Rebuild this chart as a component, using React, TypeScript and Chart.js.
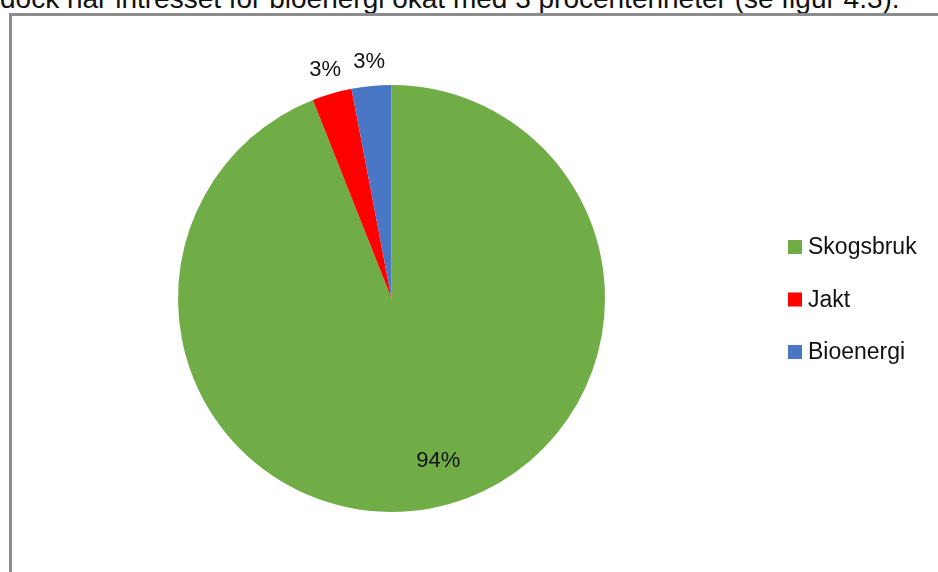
import React, { useEffect, useRef } from "react";
import { Chart, registerables } from "chart.js";

Chart.register(...registerables);

const categories = ["Skogsbruk", "Jakt", "Bioenergi"];
const values = [94, 3, 3];
const valueLabels = ["94%", "3%", "3%"];
const colors = ["#70AD47", "#FF0000", "#4A76C6"];
const introText = "dock har intresset för bioenergi ökat med 3 procentenheter (se figur 4.3).";

const FONT = "'Liberation Sans', Arial, sans-serif";

const labelPlugin = {
  id: "customLabels",
  afterDatasetsDraw(chart: any) {
    const ctx = chart.ctx;
    const meta = chart.getDatasetMeta(0);
    ctx.save();
    ctx.fillStyle = "#111";
    ctx.font = `22px ${FONT}`;
    ctx.textAlign = "center";
    ctx.textBaseline = "middle";
    meta.data.forEach((arc: any, i: number) => {
      const p = arc.getProps(["x", "y", "startAngle", "endAngle", "outerRadius"], true);
      const mid = (p.startAngle + p.endAngle) / 2;
      const frac = (p.endAngle - p.startAngle) / (Math.PI * 2);
      let r: number, a: number;
      if (frac < 0.1) {
        r = p.outerRadius + 24;
        a = mid;
      } else {
        r = p.outerRadius * 0.79;
        a = mid - 0.093;
      }
      ctx.fillText(valueLabels[i], p.x + Math.cos(a) * r, p.y + Math.sin(a) * r);
    });
    // legend
    const lx = 788;
    const ly0 = 247;
    const step = 52.5;
    ctx.textAlign = "left";
    ctx.font = `23px ${FONT}`;
    categories.forEach((c, i) => {
      const y = ly0 + i * step;
      ctx.fillStyle = colors[i];
      ctx.fillRect(lx, y - 7, 14, 14);
      ctx.fillStyle = "#111";
      ctx.fillText(c, lx + 20, y + 1);
    });
    ctx.restore();
  },
};

export default function App() {
  const ref = useRef<HTMLCanvasElement | null>(null);
  useEffect(() => {
    if (!ref.current) return;
    const chart = new Chart(ref.current, {
      type: "pie",
      data: {
        labels: categories,
        datasets: [
          {
            data: values,
            backgroundColor: colors,
            borderWidth: 0,
          },
        ],
      },
      options: {
        responsive: false,
        animation: false,
        layout: { padding: { left: 178, right: 333, top: 85, bottom: 60 } },
        plugins: {
          legend: { display: false },
          tooltip: { enabled: false },
        },
      },
      plugins: [labelPlugin],
    });
    return () => chart.destroy();
  }, []);

  return (
    <div
      style={{
        position: "absolute",
        left: 0,
        top: 0,
        width: 938,
        height: 572,
        overflow: "hidden",
        background: "#fff",
      }}
    >
      <div
        style={{
          position: "absolute",
          left: 0,
          top: -15,
          fontFamily: FONT,
          fontSize: 28,
          lineHeight: "28px",
          whiteSpace: "nowrap",
          color: "#111",
        }}
      >
        {introText}
      </div>
      <div
        style={{
          position: "absolute",
          left: 9,
          top: 13,
          width: 1200,
          height: 1200,
          borderTop: "3px solid #8c8c8c",
          borderLeft: "3px solid #8c8c8c",
        }}
      />
      <canvas
        ref={ref}
        width={938}
        height={572}
        style={{ position: "absolute", left: 0, top: 0 }}
      />
    </div>
  );
}
